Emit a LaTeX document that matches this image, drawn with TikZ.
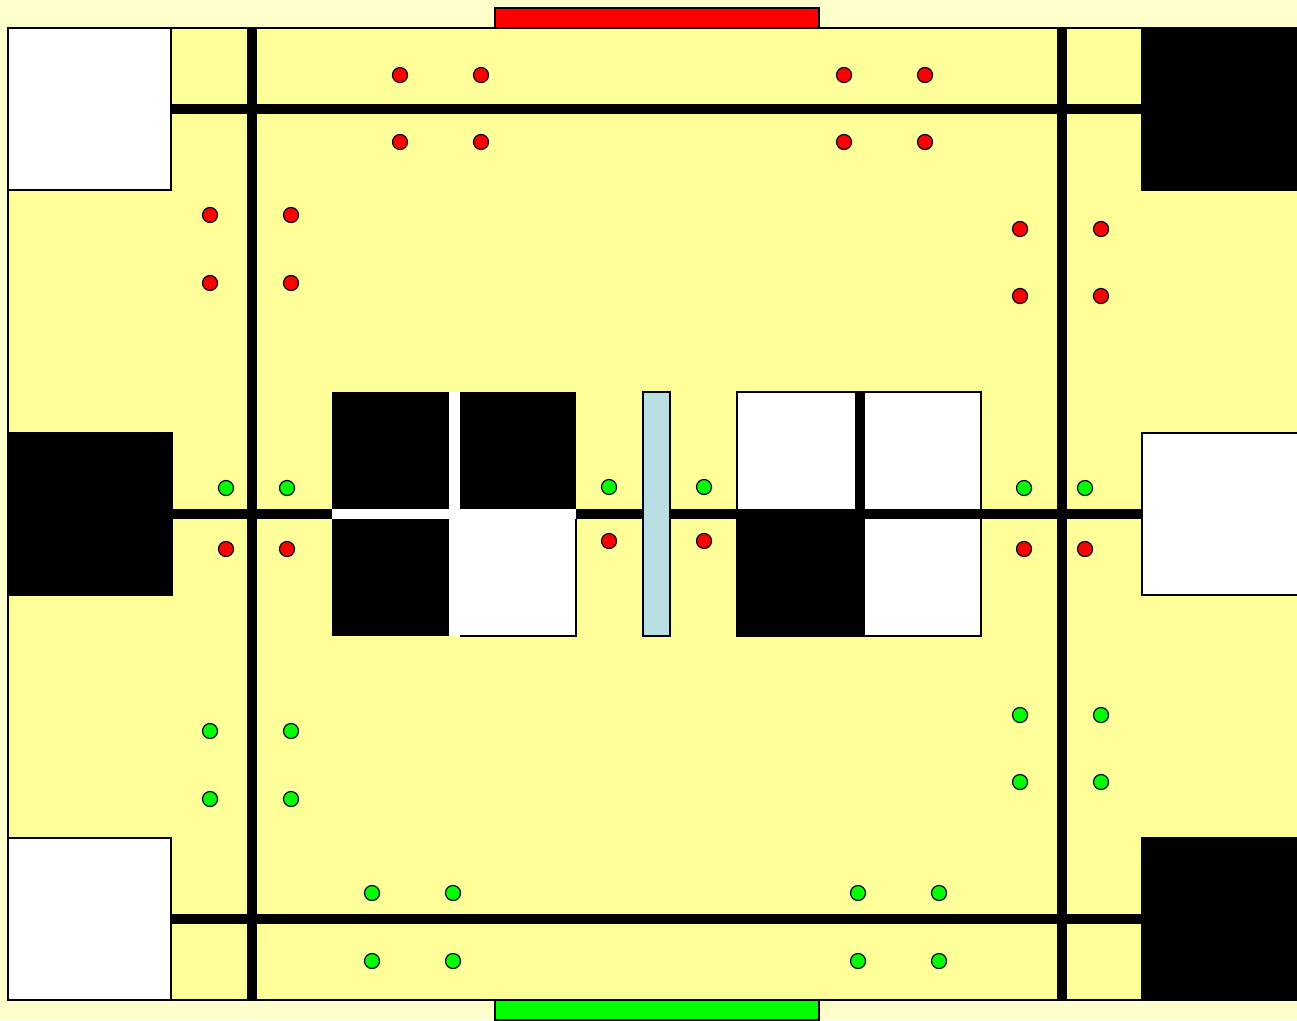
\documentclass[tikz,border=0pt]{standalone}
\begin{document}
\begin{tikzpicture}[x=1pt,y=-1pt,
  fieldcol/.style={fill=fieldyellow,draw=black,line width=1.5pt},
  wbox/.style={fill=white,draw=black,line width=1.5pt},
  bbox/.style={fill=black,draw=black,line width=1.5pt},
  tape/.style={line width=10pt,black},
  rdot/.style={circle,fill=red,draw=black,line width=1.2pt,minimum size=15pt,inner sep=0pt},
  gdot/.style={circle,fill=green,draw=black,line width=1.2pt,minimum size=15pt,inner sep=0pt}]
\definecolor{bgyellow}{HTML}{FFFFCC}
\definecolor{fieldyellow}{HTML}{FFFF99}
\definecolor{barblue}{HTML}{B9DFE5}
\fill[bgyellow] (0,0) rectangle (1297,1020);
\useasboundingbox (0,0) rectangle (1297,1020);
% field
\draw[fieldcol] (8,28) rectangle (1310,1000);
% goal bars
\draw[fill=red,draw=black,line width=1.5pt] (495,8) rectangle (819,28);
\draw[fill=green,draw=black,line width=1.5pt] (495,1000) rectangle (819,1020);
% tape lines
\draw[tape] (252,28) -- (252,1000);
\draw[tape] (1062,28) -- (1062,1000);
\draw[tape] (171,109) -- (1142,109);
\draw[tape] (171,514) -- (1142,514);
\draw[tape] (171,919) -- (1142,919);
% corner boxes
\draw[wbox] (8,28) rectangle (171,190);
\draw[bbox] (1142,28) rectangle (1310,190);
\draw[bbox] (8,433) rectangle (172,595);
\draw[wbox] (1142,433) rectangle (1310,595);
\draw[wbox] (8,838) rectangle (171,1000);
\draw[bbox] (1142,838) rectangle (1310,1000);
% left centre block
\fill[black] (332,392) rectangle (576,636);
\fill[white] (449,392) rectangle (460,514);
\fill[white] (332,509) rectangle (576,519);
\fill[white] (449,509) rectangle (576,636);
\draw[black,line width=1.5pt] (576,519) -- (576,636) -- (460,636);
% blue bar
\draw[fill=barblue,draw=black,line width=1.5pt] (643,392) rectangle (670,636);
% right centre block
\draw[wbox] (737,392) rectangle (981,636);
\fill[black] (855,392) rectangle (865,514);
\fill[black] (737,509) rectangle (981,519);
\fill[black] (737,509) rectangle (865,636);
% red dots
\foreach \x/\y [count=\i] in {400/75,481/75,844/75,925/75,400/142,481/142,844/142,925/142,
  210/215,291/215,210/283,291/283,1020/229,1101/229,1020/296,1101/296,
  226/549,287/549,609/541,704/541,1024/549,1085/549}
  \node[rdot] (r\i) at (\x,\y) {};
% green dots
\foreach \x/\y [count=\i] in {226/488,287/488,609/487,704/487,1024/488,1085/488,
  210/731,291/731,210/799,291/799,1020/715,1101/715,1020/782,1101/782,
  372/893,453/893,858/893,939/893,372/961,453/961,858/961,939/961}
  \node[gdot] (g\i) at (\x,\y) {};
\end{tikzpicture}
\end{document}
